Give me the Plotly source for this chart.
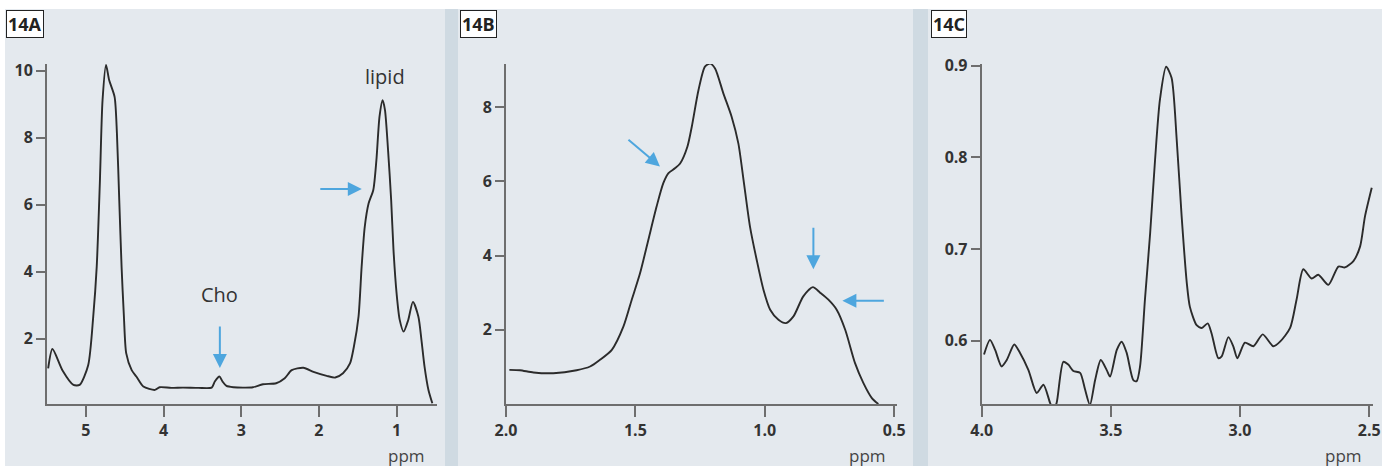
import plotly.graph_objects as go

W, H = 1387, 466

# ---------------- data ----------------
ppm_a = [5.485, 5.43, 5.30, 5.16, 5.08, 4.97, 4.905, 4.86, 4.82, 4.785, 4.74, 4.70, 4.63, 4.60, 4.57,
         4.54, 4.51, 4.48, 4.41, 4.35, 4.26, 4.11, 4.05, 3.90, 3.75, 3.55, 3.38, 3.34, 3.28, 3.24, 3.19,
         3.10, 2.95, 2.85, 2.72, 2.55, 2.44, 2.35, 2.20, 2.07, 1.90, 1.79, 1.69, 1.60, 1.55, 1.49,
         1.45, 1.41, 1.36, 1.30, 1.26, 1.22, 1.18, 1.15, 1.11, 1.07, 1.04, 1.00, 0.96, 0.91, 0.85,
         0.79, 0.72, 0.68, 0.64, 0.59, 0.54]
int_a = [1.11, 1.69, 1.05, 0.62, 0.62, 1.21, 2.66, 4.15, 6.64, 9.12, 10.17, 9.72, 9.22, 8.13, 6.14,
         4.15, 2.66, 1.56, 1.06, 0.87, 0.57, 0.47, 0.55, 0.53, 0.54, 0.53, 0.54, 0.72, 0.87, 0.72, 0.59,
         0.55, 0.54, 0.55, 0.64, 0.67, 0.82, 1.06, 1.13, 1.01, 0.89, 0.84, 0.97, 1.26, 1.76, 2.66,
         4.15, 5.34, 6.04, 6.44, 7.33, 8.63, 9.12, 8.83, 7.63, 6.14, 4.65, 3.35, 2.56, 2.21, 2.56,
         3.10, 2.66, 1.96, 1.16, 0.47, 0.07]

ppm_b = [1.987, 1.946, 1.894, 1.817, 1.727, 1.675, 1.637, 1.591, 1.546, 1.514, 1.482, 1.450, 1.418,
         1.392, 1.372, 1.347, 1.327, 1.299, 1.282, 1.256, 1.231, 1.211, 1.192, 1.160, 1.128, 1.102,
         1.082, 1.057, 1.031, 1.005, 0.979, 0.947, 0.918, 0.889, 0.851, 0.814, 0.786, 0.754, 0.722,
         0.689, 0.651, 0.619, 0.586, 0.561]
int_b = [0.92, 0.91, 0.85, 0.83, 0.91, 1.01, 1.19, 1.46, 2.09, 2.81, 3.52, 4.42, 5.32,
         5.95, 6.22, 6.35, 6.48, 6.93, 7.47, 8.46, 9.09, 9.17, 9.04, 8.37, 7.74, 7.02,
         6.04, 4.78, 3.88, 3.08, 2.54, 2.27, 2.18, 2.36, 2.90, 3.15, 3.00, 2.81, 2.54,
         2.00, 1.10, 0.57, 0.16, 0.00]

ppm_c = [3.991, 3.968, 3.948, 3.923, 3.903, 3.874, 3.852, 3.819, 3.787, 3.761, 3.735, 3.722, 3.710,
         3.684, 3.665, 3.645, 3.619, 3.600, 3.581, 3.561, 3.539, 3.516, 3.503, 3.477, 3.458, 3.439,
         3.413, 3.400, 3.387, 3.368, 3.348, 3.329, 3.310, 3.286, 3.265, 3.245, 3.226, 3.206, 3.194,
         3.168, 3.148, 3.125, 3.110, 3.084, 3.071, 3.045, 3.026, 3.010, 2.981, 2.948, 2.912, 2.871,
         2.845, 2.806, 2.781, 2.755, 2.723, 2.697, 2.658, 2.619, 2.594, 2.561, 2.535, 2.516, 2.490]
int_c = [0.585, 0.601, 0.590, 0.572, 0.579, 0.596, 0.587, 0.568, 0.543, 0.552, 0.532, 0.525, 0.532,
         0.577, 0.574, 0.567, 0.565, 0.547, 0.530, 0.557, 0.579, 0.568, 0.561, 0.590, 0.599, 0.587,
         0.557, 0.556, 0.572, 0.645, 0.717, 0.797, 0.863, 0.899, 0.887, 0.819, 0.736, 0.663, 0.637,
         0.617, 0.614, 0.619, 0.608, 0.581, 0.583, 0.604, 0.594, 0.581, 0.598, 0.594, 0.607, 0.594,
         0.599, 0.614, 0.645, 0.678, 0.668, 0.672, 0.661, 0.681, 0.680, 0.687, 0.703, 0.736, 0.767]

xticks_a = [5, 4, 3, 2, 1]
yticks_a = [2, 4, 6, 8, 10]
xticks_b = [2.0, 1.5, 1.0, 0.5]
yticks_b = [2, 4, 6, 8]
xticks_c = [4.0, 3.5, 3.0, 2.5]
yticks_c = [0.6, 0.7, 0.8, 0.9]
panel_labels = ["14A", "14B", "14C"]

# ---------------- style ----------------
PANEL = "#e4e9ee"
STRIP = "#cfdae2"
AXIS = "#6e6e6e"
LINE = "#2b2b2b"
BLUE = "#4ea6de"
TXT = "#333333"
FONT = "Open Sans"

def px(x):
    return x / W

def py(y):
    return 1 - y / H

fig = go.Figure()
for i, (xs, ys) in enumerate([(ppm_a, int_a), (ppm_b, int_b), (ppm_c, int_c)]):
    fig.add_trace(go.Scatter(x=xs, y=ys, mode="lines", xaxis=f"x{i+1 if i else ''}",
                             yaxis=f"y{i+1 if i else ''}",
                             line=dict(color=LINE, width=1.9, shape="spline", smoothing=0.7),
                             showlegend=False, hoverinfo="skip"))

ydom = [py(404), py(64)]
common = dict(showline=True, linecolor=AXIS, linewidth=2, ticks="outside", tickcolor=AXIS,
              tickwidth=1.5, showgrid=False, zeroline=False, automargin=False,
              tickfont=dict(family=FONT, size=16, color=TXT, weight="bold"))

fig.update_layout(
    width=W, height=H, margin=dict(l=0, r=0, t=0, b=0, pad=0, autoexpand=False),
    paper_bgcolor="white", plot_bgcolor=PANEL, showlegend=False,
    xaxis=dict(domain=[px(47), px(437)], range=[5.5, 0.48], tickvals=xticks_a, ticklen=11,
               anchor="y", **common),
    yaxis=dict(domain=ydom, range=[0.05, 10.2], tickvals=yticks_a, ticklen=9, anchor="x", **common),
    xaxis2=dict(domain=[px(506), px(896.7)], range=[2.0, 0.49], tickvals=xticks_b, tickformat=".1f",
                ticklen=11, anchor="y2", **common),
    yaxis2=dict(domain=ydom, range=[0, 9.16], tickvals=yticks_b, ticklen=9, anchor="x2", **common),
    xaxis3=dict(domain=[px(981.7), px(1373.3)], range=[4.0, 2.484], tickvals=xticks_c, tickformat=".1f",
                ticklen=11, anchor="y3", **common),
    yaxis3=dict(domain=ydom, range=[0.531, 0.902], tickvals=yticks_c, tickformat=".1f", ticklen=9,
                anchor="x3", **common),
)

# panel backgrounds
shapes = []
for x0, x1, col in [(5, 445, PANEL), (445, 458, STRIP), (458, 913, PANEL), (913, 928, STRIP), (928, 1382, PANEL)]:
    shapes.append(dict(type="rect", xref="paper", yref="paper", x0=px(x0), x1=px(x1), y0=0, y1=py(9),
                       fillcolor=col, line=dict(width=0), layer="below"))
fig.update_layout(shapes=shapes)

ann = []
# panel labels
for lab, x0 in zip(panel_labels, [6, 460, 931]):
    ann.append(dict(text=f"<b>{lab}</b>", xref="paper", yref="paper", x=px(x0), y=py(10),
                    xanchor="left", yanchor="top", showarrow=False, bgcolor="white",
                    bordercolor="#222", borderwidth=1, borderpad=1,
                    font=dict(family=FONT, size=18, color="#222")))

def arrow(xref, yref, x, y, ax, ay):
    ann.append(dict(text="", xref=xref, yref=yref, x=x, y=y, ax=ax, ay=ay, showarrow=True,
                    arrowhead=2, arrowsize=1.4, arrowwidth=2, arrowcolor=BLUE, standoff=0))

def label(xref, yref, x, y, t, xanchor="center", size=20):
    ann.append(dict(text=t, xref=xref, yref=yref, x=x, y=y, showarrow=False, xanchor=xanchor,
                    yanchor="middle", font=dict(family=FONT, size=size, color=TXT)))

# panel A
arrow("x", "y", 4.74, 10.44, 0, -33)
arrow("x", "y", 1.448, 6.47, -43, 0)
arrow("x", "y", 3.275, 1.125, 0, -43)
label("x", "y", 3.275, 3.31, "Cho")
label("x", "y", 1.15, 9.84, "lipid")
# panel B
arrow("x2", "y2", 1.405, 6.40, -33, -28)
arrow("x2", "y2", 0.812, 3.63, 0, -43)
arrow("x2", "y2", 0.700, 2.78, 43, 0)
# panel C
arrow("x3", "y3", 3.286, 0.9156, 0, -28)
label("x3", "y3", 3.213, 0.934, "3.3 ppm", xanchor="left")

# ppm axis labels
for xr, xv in [("x", 0.869), ("x2", 0.601), ("x3", 2.601)]:
    ann.append(dict(text="ppm", xref=xr, yref="paper", x=xv, y=py(455), showarrow=False,
                    xanchor="center", yanchor="middle", font=dict(family=FONT, size=17, color="#444")))

fig.update_layout(annotations=ann)
fig.write_html("out.html", post_script="document.body.style.margin='0';document.body.style.overflow='hidden';")
